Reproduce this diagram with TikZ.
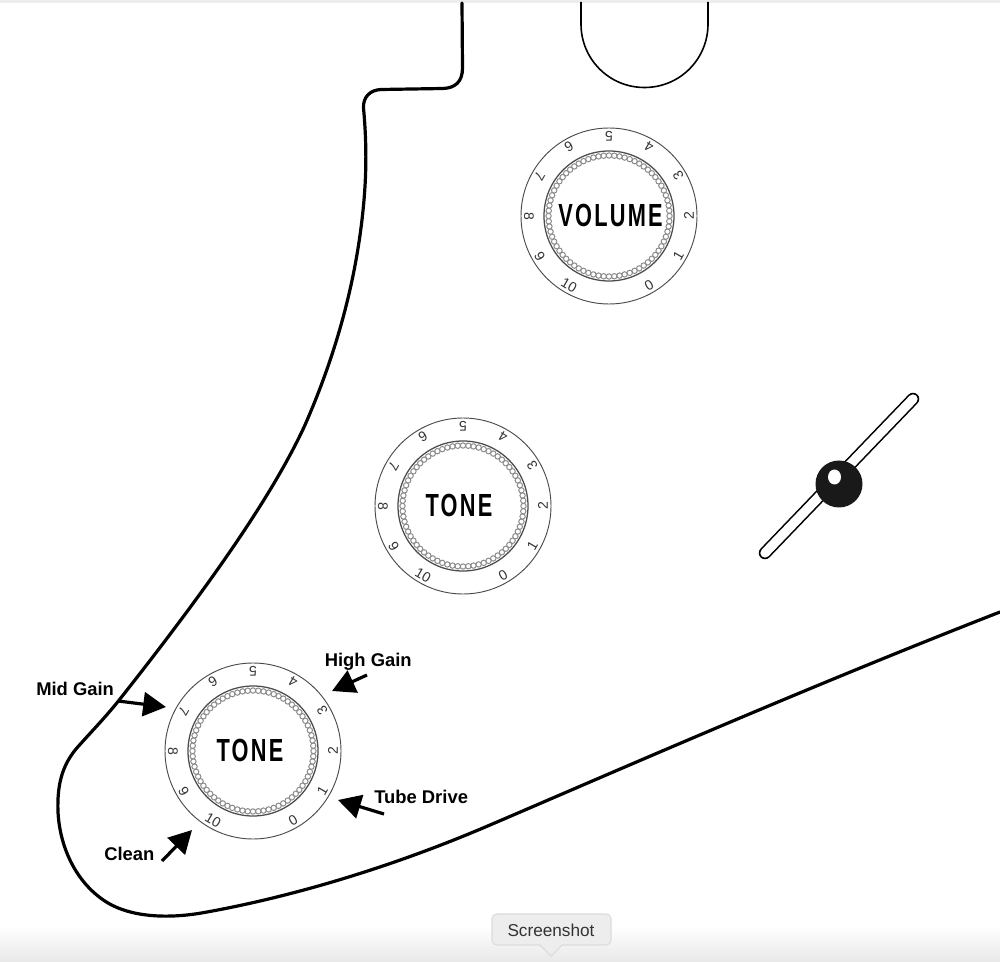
\documentclass[tikz,border=0pt]{standalone}
\usepackage{fontspec}
\setmainfont{Liberation Sans}
\newfontfamily\knobfont[FakeStretch=0.68,LetterSpace=7]{Liberation Sans}
\usetikzlibrary{arrows.meta,shadings,calc}
\definecolor{bandgray}{gray}{0.93}
\definecolor{scallop}{gray}{0.55}
\definecolor{ringcol}{gray}{0.30}
\tikzset{
  px/.style={x=0.75pt,y=-0.75pt},
  bodyline/.style={line width=2.4pt,line cap=round,line join=round,black},
  neckline/.style={line width=1.2pt,black},
  ringouter/.style={draw=ringcol,line width=0.7pt,fill=white},
  ringinner/.style={draw=ringcol,line width=0.95pt},
  scallopdot/.style={draw=scallop,line width=0.75pt},
  dialnum/.style={font=\fontsize{10.5}{12}\selectfont,text=black!80,inner sep=0pt},
  knoblabel/.style={font=\knobfont\bfseries\fontsize{24}{28}\selectfont,inner sep=0pt},
  gainlabel/.style={font=\bfseries\fontsize{13.8}{16}\selectfont,inner sep=0pt},
  gainarrow/.style={line width=2.4pt,black,-{Triangle[length=18pt*0.95,width=18pt*1.0]}},
  tip/.style={fill=bandgray,draw=black!14,line width=0.8pt,rounded corners=3.5pt},
}
\newcommand{\knobdial}[5]{% name, cx, cy, label, label x offset
  \coordinate (#1) at (#2,#3);
  \draw[ringouter] (#1) circle (88);
  \foreach \a in {0,5,...,355}{\draw[scallopdot] ($(#1)+({60.5*cos(\a)},{60.5*sin(\a)})$) circle (2.7);}
  \draw[ringinner] (#1) circle (65);
  \foreach \t/\a in {5/90,4/60,3/30,2/0,1/-30,0/-60,10/-120,9/-150,8/180,7/150,6/120}{
    \node[dialnum,rotate=\a+90] at ($(#1)+({80*cos(\a)},{-80*sin(\a)})$) {\t};
  }
  \node[knoblabel] (#1label) at ($(#1)+(#5,-1)$) {#4};
}
\begin{document}
\begin{tikzpicture}[px]
\useasboundingbox (0,0) rectangle (1000,962);
\fill[white] (0,0) rectangle (1000,962);
\fill[bandgray] (0,0) rectangle (1000,3);
\shade[top color=white,bottom color=black!9] (0,925) rectangle (1000,962);

% neck cut-out
\coordinate (neckL) at (581,2);
\coordinate (neckR) at (708,2);
\draw[neckline] (neckL) -- (581,24) .. controls (581,59) and (609,87.5) .. (644.5,87.5)
  .. controls (680,87.5) and (708,59) .. (708,24) -- (neckR);

% pickguard outline
\coordinate (topEnd) at (462,3);
\coordinate (rightEnd) at (1000,612);
\draw[bodyline] (topEnd) -- (462.5,68)
  .. controls (462.5,82) and (455,88) .. (443,88.5)
  -- (381,89.5)
  .. controls (370,90) and (363,97) .. (363.5,108)
  .. controls (366,135) and (367,165) .. (364,200)
  .. controls (358,270) and (340,345) .. (305,425)
  .. controls (272,497) and (206,590) .. (120,699)
  .. controls (105,718) and (90,733) .. (76,749)
  .. controls (62,766) and (57,785) .. (58,812)
  .. controls (60,850) and (78,885) .. (108,903)
  .. controls (130,916) and (165,920) .. (207,912)
  .. controls (290,897) and (390,868) .. (490,825)
  .. controls (600,778) and (800,690) .. (rightEnd);

% knobs
\knobdial{vol}{609}{216}{VOLUME}{1.5}
\knobdial{toneA}{463}{506}{TONE}{-4}
\knobdial{toneB}{253}{751}{TONE}{-3}

% toggle switch
\coordinate (slotA) at (765,553);
\coordinate (slotB) at (913,399);
\draw[line width=9.4pt,black,line cap=round] (slotA) -- (slotB);
\draw[line width=7pt,white,line cap=round] (slotA) -- (slotB);
\fill[black!90] (839,484) circle (23.5);
\fill[white] (834.5,477) ellipse (6.5 and 7.5);

% labels and arrows
\node[gainlabel,anchor=west] (mid) at (36,689) {Mid Gain};
\node[gainlabel,anchor=west] (high) at (324.5,661.5) {High Gain};
\node[gainlabel,anchor=west] (tube) at (374,797) {Tube Drive};
\node[gainlabel,anchor=west] (clean) at (104,854) {Clean};
\coordinate (midS) at (118,701);
\coordinate (midE) at (166,707);
\coordinate (highS) at (367,675);
\coordinate (highE) at (332,691);
\coordinate (tubeS) at (384,814);
\coordinate (tubeE) at (338,800);
\coordinate (cleanS) at (162,861);
\coordinate (cleanE) at (192,830);
\draw[gainarrow] (midS) -- (midE);
\draw[gainarrow] (highS) -- (highE);
\draw[gainarrow] (tubeS) -- (tubeE);
\draw[gainarrow] (cleanS) -- (cleanE);

% tooltip
\coordinate (tipEnd) at (551,956);
\draw[tip] (492,914) rectangle (611,945);
\fill[bandgray] (540,944) -- (tipEnd) -- (562,944) -- cycle;
\draw[black!14,line width=0.8pt] (540,945) -- (tipEnd) -- (562,945);
\node[font=\fontsize{12.9}{15}\selectfont,text=black!80,inner sep=0pt] (shot) at (551,930) {Screenshot};
\end{tikzpicture}
\end{document}
